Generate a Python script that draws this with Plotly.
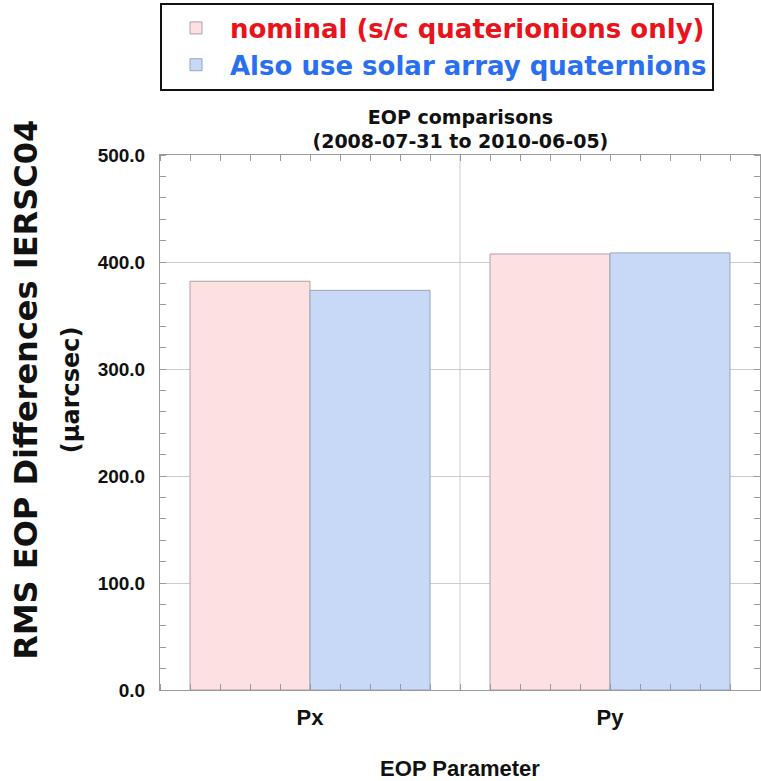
import plotly.graph_objects as go

# EOP parameters compared
categories = ["Px", "Py"]
cat_pos = [0, 1]

# RMS differences w.r.t. IERS C04 (micro-arcseconds)
nominal_rms = [382.0, 407.5]
solar_array_rms = [373.5, 408.5]

series_names = [
    '<span style="color:#e8131b">nominal (s/c quaterionions only)</span>',
    '<span style="color:#2a6ff0">Also use solar array quaternions</span>',
]

y_ticks = [0, 100, 200, 300, 400, 500]

FONT = "Liberation Sans, Arial, Helvetica, sans-serif"
WIDE = "DejaVu Sans, Liberation Sans, sans-serif"

fig = go.Figure()
fig.add_trace(go.Bar(
    x=cat_pos, y=nominal_rms, name=series_names[0],
    marker=dict(color="#fde0e0", line=dict(color="#b0a0a8", width=1)),
))
fig.add_trace(go.Bar(
    x=cat_pos, y=solar_array_rms, name=series_names[1],
    marker=dict(color="#c8d9f8", line=dict(color="#98a4bc", width=1)),
))

fig.update_layout(
    width=761, height=781,
    margin=dict(l=160, r=1, t=155, b=91),
    paper_bgcolor="white", plot_bgcolor="white",
    barmode="group", bargap=0.2, bargroupgap=0,
    font=dict(family=FONT, color="#111111", weight="bold"),
    title=dict(
        text="EOP comparisons<br>(2008-07-31 to 2010-06-05)",
        x=0.605, xanchor="center", xref="container",
        y=0.8415, yref="container", yanchor="middle",
        font=dict(size=19, family=WIDE, weight="bold"),
    ),
    legend=dict(
        x=0.0, xanchor="left", xref="paper",
        y=1.285, yanchor="top", yref="paper",
        bordercolor="#111111", borderwidth=2, bgcolor="white",
        font=dict(size=26, family=WIDE, weight="bold"),
        traceorder="normal", itemclick=False,
        tracegroupgap=0, itemwidth=58,
    ),
    xaxis=dict(
        range=[-0.5, 1.5], automargin=False,
        tickmode="array", tickvals=cat_pos, ticktext=categories,
        ticks="", showgrid=False, zeroline=False,
        showline=True, linecolor="#9a9a9a", linewidth=1, mirror="allticks",
        tickfont=dict(size=22, family=FONT, weight="bold"),
        ticklabelstandoff=8,
        minor=dict(ticks="inside", tick0=-0.5, dtick=0.1, ticklen=6,
                   tickcolor="#9a9a9a", showgrid=False),
        title=dict(text="EOP Parameter", standoff=38,
                   font=dict(size=22, family=FONT, weight="bold")),
    ),
    yaxis=dict(
        range=[0, 500], automargin=False,
        tickmode="array", tickvals=y_ticks, tickformat=".1f",
        ticks="", showgrid=True, gridcolor="#cccccc", gridwidth=1,
        zeroline=False,
        showline=True, linecolor="#9a9a9a", linewidth=1, mirror="allticks",
        tickfont=dict(size=19, family=FONT, weight="bold"),
        ticklabelstandoff=10,
        minor=dict(ticks="inside", dtick=20, ticklen=6,
                   tickcolor="#9a9a9a", showgrid=False),
    ),
    annotations=[dict(
        text="RMS EOP Differences IERSC04<br><span style='font-size:24px'>(μarcsec)</span>",
        xref="paper", yref="paper", x=-0.19, y=0.561,
        xanchor="center", yanchor="middle", textangle=-90,
        showarrow=False,
        font=dict(size=32, family=WIDE, weight="bold", color="#111111"),
    )],
    shapes=[dict(
        type="line", xref="x", yref="paper", x0=0.5, x1=0.5, y0=0, y1=1,
        line=dict(color="#cccccc", width=1), layer="below",
    )],
)

fig.write_html("out.html")
